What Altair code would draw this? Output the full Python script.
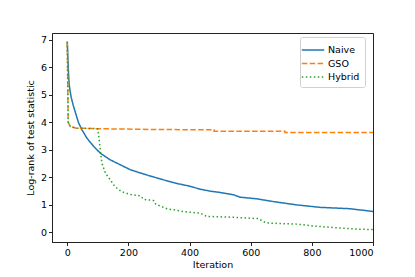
import altair as alt
import pandas as pd

naive_x = [0, 2, 4, 6, 9, 13, 20, 26, 37, 48, 64, 86, 108, 140, 173, 206, 239, 271, 315, 350, 400, 435, 467, 500, 543, 565, 620, 674, 750, 827, 925, 1000]
naive_y = [6.93, 6.3, 5.8, 5.4, 5.15, 4.9, 4.6, 4.38, 3.98, 3.73, 3.43, 3.13, 2.88, 2.64, 2.46, 2.28, 2.16, 2.05, 1.91, 1.8, 1.68, 1.57, 1.5, 1.45, 1.37, 1.28, 1.22, 1.12, 1.0, 0.91, 0.86, 0.76]

gso_x = [0, 3, 10, 30, 100, 300, 480, 480, 712, 712, 1000]
gso_y = [6.93, 4.0, 3.85, 3.79, 3.77, 3.74, 3.73, 3.68, 3.68, 3.63, 3.63]

hybrid_x = [0, 3, 10, 30, 99, 103, 108, 113, 125, 140, 155, 168, 185, 206, 239, 250, 282, 290, 326, 358, 391, 435, 456, 543, 625, 640, 653, 750, 816, 892, 947, 1000]
hybrid_y = [6.93, 4.0, 3.85, 3.79, 3.77, 3.5, 3.0, 2.52, 2.15, 1.92, 1.68, 1.55, 1.45, 1.38, 1.33, 1.2, 1.16, 1.02, 0.86, 0.8, 0.74, 0.7, 0.58, 0.55, 0.5, 0.4, 0.34, 0.3, 0.22, 0.16, 0.12, 0.1]

series = ["Naive", "GSO", "Hybrid"]
colors = ["#1f77b4", "#ff7f0e", "#2ca02c"]
dashes = [[1, 0], [5.5, 2.4], [1.5, 2.5]]

rows = []
for name, xs, ys in [("Naive", naive_x, naive_y), ("GSO", gso_x, gso_y), ("Hybrid", hybrid_x, hybrid_y)]:
    for i, (x, y) in enumerate(zip(xs, ys)):
        rows.append({"series": name, "order": i, "iteration": x, "value": y})
df = pd.DataFrame(rows)

font = "DejaVu Sans"

chart = alt.Chart(df).mark_line(strokeWidth=1.5, clip=True).encode(
    x=alt.X("iteration:Q", title="Iteration",
            scale=alt.Scale(domain=[-50, 1000], nice=False, zero=False),
            axis=alt.Axis(values=[0, 200, 400, 600, 800, 1000], format="d", grid=False)),
    y=alt.Y("value:Q", title="Log-rank of test statistic",
            scale=alt.Scale(domain=[-0.35, 7.25], nice=False, zero=False),
            axis=alt.Axis(values=[0, 1, 2, 3, 4, 5, 6, 7], grid=False)),
    color=alt.Color("series:N", scale=alt.Scale(domain=series, range=colors), title=None,
                    legend=alt.Legend(orient="none", legendX=248, legendY=4)),
    strokeDash=alt.StrokeDash("series:N", scale=alt.Scale(domain=series, range=dashes), title=None,
                              legend=alt.Legend(orient="none", legendX=248, legendY=4)),
    order="order:Q",
).properties(
    width=321, height=209,
    autosize=alt.AutoSizeParams(type="none"),
    padding={"left": 44, "top": 25, "right": 34, "bottom": 27},
).configure_view(
    stroke="#222", strokeWidth=1
).configure_axis(
    labelFont=font, titleFont=font, labelFontSize=9.5, titleFontSize=9.5,
    labelColor="#000", titleColor="#000", titleFontWeight="normal",
    domainColor="#222", tickColor="#222", tickSize=3.5, labelPadding=2,
).configure_axisX(
    titlePadding=2,
).configure_axisY(
    titlePadding=5,
).configure_legend(
    labelFont=font, labelFontSize=9.5, labelColor="#000",
    symbolType="M-1.6,0H1.6", symbolSize=196, symbolStrokeWidth=1.5,
    strokeColor="#d0d0d0", fillColor="white", cornerRadius=2,
    padding=5, rowPadding=0.5, labelOffset=7,
)

chart.save("out.html", embed_options={"renderer": "svg", "actions": False})
